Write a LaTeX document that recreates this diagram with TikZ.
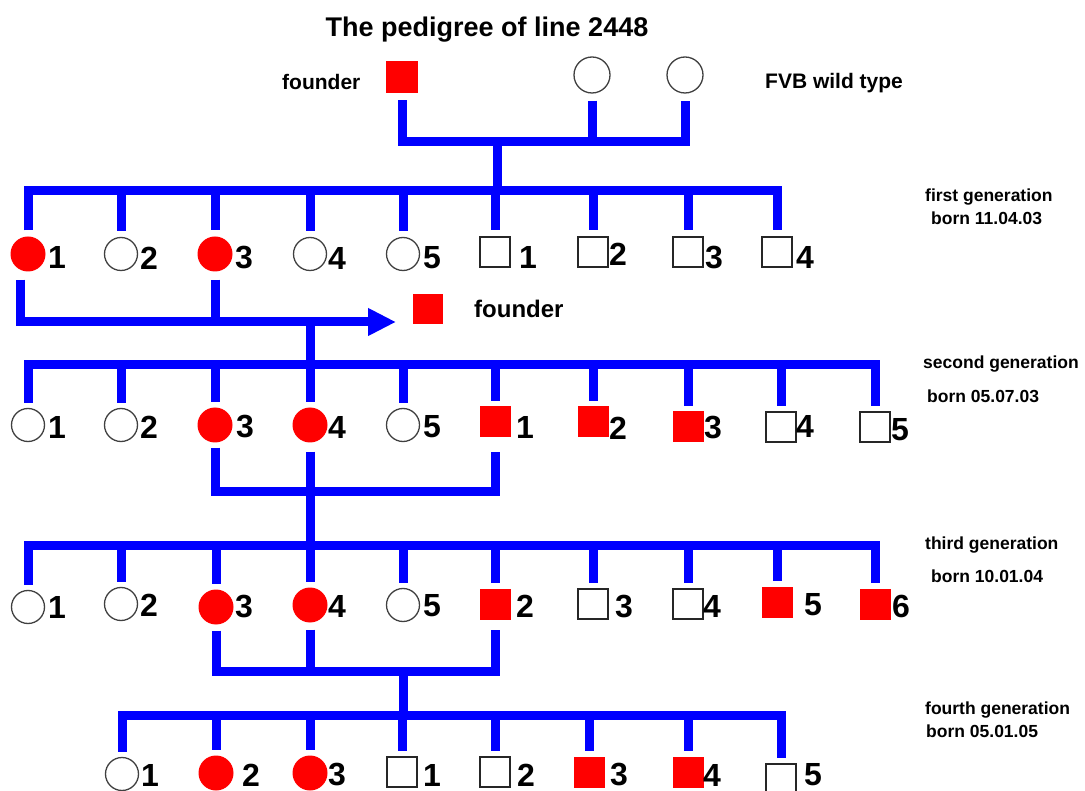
\documentclass[tikz,border=0pt]{standalone}
\usepackage{fontspec}
\setmainfont{Liberation Sans}
\usetikzlibrary{arrows.meta}
\definecolor{pblue}{RGB}{0,0,255}
\definecolor{pred}{RGB}{255,0,0}
\tikzset{
  link/.style={draw=pblue, line width=9pt, line join=miter},
  fc/.style={circle, fill=pred, minimum size=35pt, inner sep=0pt},
  oc/.style={circle, draw=black!75, line width=1.3pt, fill=white, minimum size=33pt, inner sep=0pt},
  fs/.style={rectangle, fill=pred, minimum size=31pt, inner sep=0pt},
  os/.style={rectangle, draw=black!85, line width=1.3pt, fill=white, minimum size=30pt, inner sep=0pt},
  num/.style={anchor=west, inner sep=0pt, font=\fontsize{32}{32}\selectfont\bfseries},
  gentext/.style={anchor=base west, inner sep=0pt, font=\fontsize{17.5}{17.5}\selectfont\bfseries},
  lbl/.style={anchor=base west, inner sep=0pt, font=\fontsize{21}{21}\selectfont\bfseries}
}
\begin{document}
\begin{tikzpicture}[x=1pt,y=-1pt]
\useasboundingbox[fill=white] (0,0) rectangle (1085,791);

% title and top row
\node[anchor=base, inner sep=0pt, font=\fontsize{27}{27}\selectfont\bfseries] (title) at (487,37) {The pedigree of line 2448};
\node[lbl] (tf) at (282,90) {founder};
\node[lbl] (tw) at (765,89) {FVB wild type};
\node[fs, minimum size=32pt] (F0) at (402,77) {};
\node[oc, minimum size=36pt] (W1) at (592,75) {};
\node[oc, minimum size=36pt] (W2) at (685,75) {};

\coordinate (t0) at (0,142);
\coordinate (g1) at (0,191);
\coordinate (ar) at (0,322);
\coordinate (g2) at (0,365);
\coordinate (m2) at (0,492);
\coordinate (g3) at (0,545);
\coordinate (m3) at (0,671);
\coordinate (g4) at (0,715);
\coordinate (t1) at (497,142);

\draw[link] ([yshift=-7pt]F0.south) -- (F0.south |- t0) -- (W2.south |- t0) -- ([yshift=-7pt]W2.south);
\draw[link] ([yshift=-7pt]W1.south) -- (W1.south |- t0);
\draw[link] (t1) -- (t1 |- g1);

% first generation
\node[fc] (A1) at (28,254) {};
\node[oc] (A2) at (121,254) {};
\node[fc] (A3) at (215,254) {};
\node[oc] (A4) at (310,254) {};
\node[oc] (A5) at (403,254) {};
\node[os] (A6) at (495,252) {};
\node[os] (A7) at (593,252) {};
\node[os] (A8) at (688,252) {};
\node[os] (A9) at (777,252) {};
\node[num] (lA1) at (48,257) {1};
\node[num] (lA2) at (140,258) {2};
\node[num] (lA3) at (235,258) {3};
\node[num] (lA4) at (328,258) {4};
\node[num] (lA5) at (423,258) {5};
\node[num] (lA6) at (519,257) {1};
\node[num] (lA7) at (609,254) {2};
\node[num] (lA8) at (705,258) {3};
\node[num] (lA9) at (796,257) {4};
\node[gentext] (gt1) at (925,202) {first generation};
\node[gentext] (gb1) at (931,225) {born 11.04.03};

\draw[link] ([yshift=6pt]A1.north) -- (A1.north |- g1) -- (A9.north |- g1) -- ([yshift=6pt]A9.north);
\foreach \n in {A2,A3,A4,A5,A6,A7,A8}
  \draw[link] (\n.north |- g1) -- ([yshift=6pt]\n.north);

% arrow to second founder
\coordinate (a1d) at ([xshift=-8pt,yshift=-8pt]A1.south);
\coordinate (tip) at (396,322);
\coordinate (j1) at (310,322);
\draw[link, -{Triangle[length=28pt,width=26pt]}] (a1d) -- (a1d |- ar) -- (tip);
\draw[link] ([yshift=-8pt]A3.south) -- (A3.south |- ar);
\draw[link] (j1) -- (j1 |- g2);
\node[fs, minimum size=30pt] (F1) at (428,309) {};
\node[anchor=base west, inner sep=0pt, font=\fontsize{24}{24}\selectfont\bfseries] (F1t) at (474,318) {founder};

% second generation
\node[oc] (B1) at (28,425) {};
\node[oc] (B2) at (121,425) {};
\node[fc] (B3) at (215,425) {};
\node[fc] (B4) at (310,425) {};
\node[oc] (B5) at (403,425) {};
\node[fs] (B6) at (495,422) {};
\node[fs] (B7) at (593,422) {};
\node[fs] (B8) at (688,427) {};
\node[os] (B9) at (781,427) {};
\node[os] (B10) at (875,427) {};
\node[num] (lB1) at (48,427) {1};
\node[num] (lB2) at (140,427) {2};
\node[num] (lB3) at (236,427) {3};
\node[num] (lB4) at (328,427) {4};
\node[num] (lB5) at (423,427) {5};
\node[num] (lB6) at (516,427) {1};
\node[num] (lB7) at (609,428) {2};
\node[num] (lB8) at (704,428) {3};
\node[num] (lB9) at (796,426) {4};
\node[num] (lB10) at (891,430) {5};
\node[gentext] (gt2) at (923,369) {second generation};
\node[gentext] (gb2) at (927,403) {born 05.07.03};

\draw[link] ([yshift=5pt]B1.north) -- (B1.north |- g2) -- (B10.north |- g2) -- ([yshift=5pt]B10.north);
\foreach \n in {B2,B3,B4,B5,B6,B7,B8,B9}
  \draw[link] (\n.north |- g2) -- ([yshift=5pt]\n.north);

\draw[link] ([yshift=-5pt]B3.south) -- (B3.south |- m2) -- (B6.south |- m2) -- ([yshift=-14pt]B6.south);
\draw[link] ([yshift=-9pt]B4.south) -- (B4.south |- m2);
\draw[link] (B4.south |- m2) -- (B4.south |- g3);

% third generation
\node[oc] (C1) at (28,607) {};
\node[oc] (C2) at (121,604) {};
\node[fc] (C3) at (216,607) {};
\node[fc] (C4) at (310,605) {};
\node[oc] (C5) at (403,605) {};
\node[fs] (C6) at (495,604) {};
\node[os] (C7) at (593,604) {};
\node[os] (C8) at (688,604) {};
\node[fs] (C9) at (777,602) {};
\node[fs] (C10) at (875,604) {};
\node[num] (lC1) at (48,607) {1};
\node[num] (lC2) at (140,605) {2};
\node[num] (lC3) at (235,607) {3};
\node[num] (lC4) at (328,606) {4};
\node[num] (lC5) at (423,606) {5};
\node[num] (lC6) at (516,606) {2};
\node[num] (lC7) at (615,607) {3};
\node[num] (lC8) at (703,606) {4};
\node[num] (lC9) at (804,605) {5};
\node[num] (lC10) at (892,606) {6};
\node[gentext] (gt3) at (925,550) {third generation};
\node[gentext] (gb3) at (931,582) {born 10.01.04};

\draw[link] ([yshift=5pt]C1.north) -- (C1.north |- g3) -- (C10.north |- g3) -- ([yshift=5pt]C10.north);
\foreach \n in {C2,C3,C4,C5,C6,C7,C8,C9}
  \draw[link] (\n.north |- g3) -- ([yshift=5pt]\n.north);

\draw[link] ([yshift=-6pt]C3.south) -- (C3.south |- m3) -- (C6.south |- m3) -- ([yshift=-10pt]C6.south);
\draw[link] ([yshift=-7pt]C4.south) -- (C4.south |- m3);
\draw[link] (C5.south |- m3) -- (C5.south |- g4);

% fourth generation
\node[oc] (D1) at (122,774) {};
\node[fc] (D2) at (216,773) {};
\node[fc] (D3) at (310,773) {};
\node[os] (D4) at (402,772) {};
\node[os] (D5) at (495,772) {};
\node[fs] (D6) at (589,772) {};
\node[fs] (D7) at (688,772) {};
\node[os] (D8) at (781,779) {};
\node[num] (lD1) at (141,775) {1};
\node[num] (lD2) at (242,775) {2};
\node[num] (lD3) at (328,775) {3};
\node[num] (lD4) at (423,775) {1};
\node[num] (lD5) at (517,775) {2};
\node[num] (lD6) at (610,775) {3};
\node[num] (lD7) at (703,775) {4};
\node[num] (lD8) at (804,775) {5};
\node[gentext] (gt4) at (925,714) {fourth generation};
\node[gentext] (gb4) at (926,737) {born 05.01.05};

\draw[link] ([yshift=5pt]D1.north) -- (D1.north |- g4) -- (D8.north |- g4) -- ([yshift=5pt]D8.north);
\foreach \n in {D2,D3,D4,D5,D6,D7}
  \draw[link] (\n.north |- g4) -- ([yshift=5pt]\n.north);
\end{tikzpicture}
\end{document}
